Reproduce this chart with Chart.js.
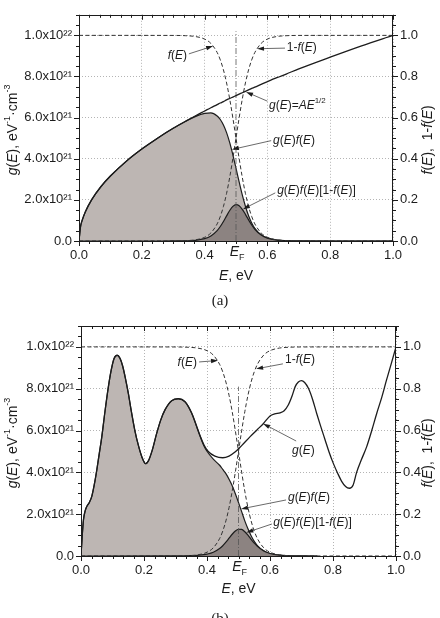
<!DOCTYPE html>
<html>
<head>
<meta charset="utf-8">
<script src="https://cdn.jsdelivr.net/npm/chart.js@4.4.1/dist/chart.umd.min.js"></script>
<style>
    html, body { margin: 0; padding: 0; background: #fff; }
    #wrap { position: relative; width: 440px; height: 618px; overflow: hidden; }
    canvas { position: absolute; left: 0; }
    #chart-a { top: 0; }
    #chart-b { top: 310px; }
</style>
</head>
<body>
<div id="wrap">
    <canvas id="chart-a" width="440" height="310"></canvas>
    <canvas id="chart-b" width="440" height="308"></canvas>
</div>
<script>
// ---- axis labels ----
const xTickLabels = ['0.0', '0.2', '0.4', '0.6', '0.8', '1.0'];
const yTickLabels = ['0.0', '2.0x10²¹', '4.0x10²¹', '6.0x10²¹', '8.0x10²¹', '1.0x10²²'];
const rTickLabels = ['0.0', '0.2', '0.4', '0.6', '0.8', '1.0'];

// ---- Fermi function around E_F = 0.5 eV (dashed curves, right axis) ----
const fermiE   = [0, 0.3, 0.34, 0.37, 0.4, 0.42, 0.44, 0.45, 0.46, 0.47, 0.48, 0.49, 0.5, 0.51, 0.52, 0.53, 0.54, 0.55, 0.56, 0.58, 0.6, 0.63, 0.66, 0.7, 1.0];
const fermiF   = [1, 0.9997, 0.9983, 0.9945, 0.982, 0.9608, 0.9168, 0.8808, 0.832, 0.7685, 0.69, 0.5987, 0.5, 0.4013, 0.31, 0.2315, 0.168, 0.1192, 0.0832, 0.0392, 0.018, 0.0055, 0.0017, 0.0003, 0];
const fermi1mF = [0, 0.0003, 0.0017, 0.0055, 0.018, 0.0392, 0.0832, 0.1192, 0.168, 0.2315, 0.31, 0.4013, 0.5, 0.5987, 0.69, 0.7685, 0.832, 0.8808, 0.9168, 0.9608, 0.982, 0.9945, 0.9983, 0.9997, 1];

// ---- panel (a): g(E) = A E^1/2, values in 1e21 eV^-1 cm^-3 ----
const aE    = [0, 0.005, 0.01, 0.02, 0.04, 0.07, 0.1, 0.15, 0.2, 0.25, 0.3, 0.34, 0.37, 0.4, 0.42, 0.44, 0.45, 0.46, 0.47, 0.48, 0.49, 0.5, 0.51, 0.52, 0.53, 0.54, 0.55, 0.56, 0.58, 0.6, 0.63, 0.66, 0.7, 0.8, 0.9, 1.0];
const aG    = [0, 0.71, 1.0, 1.41, 2.0, 2.65, 3.16, 3.87, 4.47, 5.0, 5.48, 5.83, 6.08, 6.32, 6.48, 6.63, 6.71, 6.78, 6.86, 6.93, 7.0, 7.07, 7.14, 7.21, 7.28, 7.35, 7.42, 7.48, 7.62, 7.75, 7.94, 8.12, 8.37, 8.94, 9.49, 10.0];
const aGF   = [0, 0.71, 1.0, 1.41, 2.0, 2.65, 3.16, 3.87, 4.47, 5.0, 5.48, 5.82, 6.05, 6.21, 6.23, 6.08, 5.91, 5.64, 5.27, 4.78, 4.19, 3.54, 2.87, 2.24, 1.69, 1.23, 0.88, 0.62, 0.3, 0.14, 0.04, 0.01, 0, 0, 0, 0];
const aGF1F = [0, 0, 0, 0, 0, 0, 0, 0, 0, 0, 0.002, 0.01, 0.033, 0.112, 0.244, 0.506, 0.704, 0.948, 1.22, 1.482, 1.682, 1.768, 1.716, 1.542, 1.295, 1.027, 0.779, 0.571, 0.287, 0.137, 0.043, 0.014, 0.003, 0, 0, 0];
const aLineE = [0.5, 0.5];
const aLineY = [0, 1.02];

// ---- panel (b): model density of states, values in 1e21 eV^-1 cm^-3 ----
const bGE = [0, 0.004, 0.008, 0.013, 0.018, 0.026, 0.034, 0.042, 0.05, 0.058, 0.066, 0.076, 0.087, 0.096, 0.105, 0.115, 0.124, 0.132, 0.141, 0.15, 0.16, 0.171, 0.182, 0.193, 0.205, 0.214, 0.226, 0.24, 0.253, 0.267, 0.288, 0.309, 0.33, 0.351, 0.365, 0.378, 0.391, 0.404, 0.425, 0.45, 0.47, 0.49, 0.51, 0.537, 0.56, 0.58, 0.6, 0.615, 0.632, 0.645, 0.658, 0.67, 0.68, 0.69, 0.70, 0.71, 0.722, 0.735, 0.748, 0.761, 0.775, 0.788, 0.801, 0.815, 0.828, 0.84, 0.852, 0.864, 0.875, 0.89, 0.907, 0.923, 0.939, 0.955, 0.97, 0.985, 1.0];
const bG  = [0, 1.0, 1.75, 2.15, 2.36, 2.55, 2.84, 3.4, 4.1, 4.9, 5.7, 6.9, 8.1, 8.9, 9.45, 9.6, 9.45, 9.1, 8.5, 7.8, 6.9, 6.0, 5.3, 4.75, 4.42, 4.55, 5.05, 5.85, 6.5, 7.0, 7.43, 7.52, 7.38, 6.85, 6.3, 5.75, 5.3, 5.0, 4.78, 4.70, 4.78, 4.98, 5.28, 5.71, 6.05, 6.35, 6.7, 6.8, 6.85, 6.95, 7.22, 7.65, 8.1, 8.32, 8.39, 8.3, 8.02, 7.5, 6.83, 6.2, 5.55, 4.95, 4.43, 3.95, 3.56, 3.32, 3.24, 3.4, 4.0, 4.6, 5.23, 6.0, 6.83, 7.6, 8.42, 9.2, 10.0];
const bGFE = [0, 0.004, 0.008, 0.013, 0.018, 0.026, 0.034, 0.042, 0.05, 0.058, 0.066, 0.076, 0.087, 0.096, 0.105, 0.115, 0.124, 0.132, 0.141, 0.15, 0.16, 0.171, 0.182, 0.193, 0.205, 0.214, 0.226, 0.24, 0.253, 0.267, 0.288, 0.309, 0.33, 0.351, 0.37, 0.39, 0.40, 0.42, 0.44, 0.45, 0.46, 0.47, 0.48, 0.49, 0.50, 0.51, 0.52, 0.53, 0.54, 0.55, 0.56, 0.58, 0.60, 0.63, 0.66, 0.70, 0.75];
const bGF  = [0, 1.0, 1.75, 2.15, 2.36, 2.55, 2.84, 3.4, 4.1, 4.9, 5.7, 6.9, 8.1, 8.9, 9.45, 9.6, 9.45, 9.1, 8.5, 7.8, 6.9, 6.0, 5.3, 4.75, 4.42, 4.55, 5.05, 5.85, 6.5, 7.0, 7.43, 7.52, 7.38, 6.84, 6.06, 5.27, 5.01, 4.63, 4.34, 4.14, 3.94, 3.67, 3.36, 2.98, 2.56, 2.12, 1.68, 1.30, 0.97, 0.70, 0.50, 0.25, 0.12, 0.04, 0.01, 0, 0];
const bGF1FE = [0, 0.3, 0.35, 0.37, 0.39, 0.40, 0.42, 0.44, 0.45, 0.46, 0.47, 0.48, 0.49, 0.50, 0.51, 0.52, 0.53, 0.54, 0.55, 0.56, 0.58, 0.60, 0.63, 0.66, 0.70, 0.75];
const bGF1F  = [0, 0.002, 0.017, 0.033, 0.064, 0.09, 0.18, 0.36, 0.49, 0.66, 0.85, 1.04, 1.20, 1.28, 1.27, 1.16, 1.0, 0.80, 0.62, 0.46, 0.24, 0.12, 0.037, 0.012, 0.003, 0];
const bLineE = [0.5, 0.5];
const bLineY = [0, 0.81];

const FONT = "Arial, 'Liberation Sans', sans-serif";
const SERIF = "'Times New Roman', 'Liberation Serif', serif";
const INK = '#1c1c1c';
const LIGHT_FILL = '#bdb6b3';
const DARK_FILL = '#8c8381';

const pts = (xs, ys) => xs.map((x, i) => ({ x: x, y: ys[i] }));

// label segments: [text, style]  style: 'i' italic, 's' superscript
const fE  = [['f', 'i'], ['('], ['E', 'i'], [')']];
const gE  = [['g', 'i'], ['('], ['E', 'i'], [')']];
const gEfE = gE.concat(fE);
const gEfE1 = gE.concat(fE, [['[1-'], ['f', 'i'], ['('], ['E', 'i'], [')]']]);
const gEsqrt = gE.concat([['='], ['A', 'i'], ['E', 'i'], ['1/2', 's']]);

const panelA = {
    caption: '(a)', captionY: 305, titleDy: 35,
    leftW: 79, rightW: 47, top: 11, xH: 69,
    notes: [
        { segs: fE, x: 0.344, y: 9.0, align: 'right', from: [0.35, 9.1], to: [0.427, 9.48] },
        { segs: [['1-']].concat(fE), x: 0.662, y: 9.38, align: 'left', from: [0.656, 9.38], to: [0.567, 9.35] },
        { segs: gEsqrt, x: 0.605, y: 6.6, align: 'left', from: [0.6, 6.8], to: [0.532, 7.25] },
        { segs: gEfE, x: 0.618, y: 4.88, align: 'left', from: [0.612, 4.88], to: [0.487, 4.45] },
        { segs: gEfE1, x: 0.631, y: 2.44, align: 'left', from: [0.625, 2.34], to: [0.522, 1.55] }
    ]
};
const panelB = {
    caption: '(b)', captionY: 313, titleDy: 33,
    leftW: 81, rightW: 44, top: 16, xH: 62,
    notes: [
        { segs: fE, x: 0.368, y: 9.23, align: 'right', from: [0.375, 9.28], to: [0.435, 9.35] },
        { segs: [['1-']].concat(fE), x: 0.648, y: 9.38, align: 'left', from: [0.641, 9.19], to: [0.556, 8.95] },
        { segs: gE, x: 0.67, y: 5.02, align: 'left', from: [0.683, 5.5], to: [0.578, 6.33] },
        { segs: gEfE, x: 0.657, y: 2.78, align: 'left', from: [0.651, 2.68], to: [0.508, 2.25] },
        { segs: gEfE1, x: 0.61, y: 1.58, align: 'left', from: [0.606, 1.53], to: [0.525, 1.12] }
    ]
};

function segFont(st, size) {
    const s = st === 's' ? Math.round(size * 0.65) : size;
    return (st === 'i' ? 'italic ' : '') + s + 'px ' + FONT;
}

function richWidth(ctx, segs, size) {
    let w = 0;
    segs.forEach(([t, st]) => { ctx.font = segFont(st, size); w += ctx.measureText(t).width; });
    return w;
}

// draws segments with textBaseline middle, starting at x
function drawRich(ctx, segs, x, y, size, align) {
    const w = richWidth(ctx, segs, size);
    let cx = align === 'right' ? x - w : align === 'center' ? x - w / 2 : x;
    ctx.textBaseline = 'middle';
    ctx.textAlign = 'left';
    segs.forEach(([t, st]) => {
        ctx.font = segFont(st, size);
        ctx.fillText(t, cx, st === 's' ? y - size * 0.38 : y);
        cx += ctx.measureText(t).width;
    });
}

function drawArrow(ctx, x1, y1, x2, y2) {
    const ang = Math.atan2(y2 - y1, x2 - x1);
    ctx.strokeStyle = '#444';
    ctx.lineWidth = 0.8;
    ctx.beginPath();
    ctx.moveTo(x1, y1);
    ctx.lineTo(x2 - 4 * Math.cos(ang), y2 - 4 * Math.sin(ang));
    ctx.stroke();
    ctx.fillStyle = INK;
    ctx.beginPath();
    ctx.moveTo(x2, y2);
    ctx.lineTo(x2 - 7 * Math.cos(ang) + 2.2 * Math.sin(ang), y2 - 7 * Math.sin(ang) - 2.2 * Math.cos(ang));
    ctx.lineTo(x2 - 7 * Math.cos(ang) - 2.2 * Math.sin(ang), y2 - 7 * Math.sin(ang) + 2.2 * Math.cos(ang));
    ctx.closePath();
    ctx.fill();
}

function decoPlugin(panel) {
    return {
        id: 'deco',
        afterDraw(chart) {
            const { ctx, chartArea: a, scales } = chart;
            const px = v => scales.x.getPixelForValue(v);
            const py = v => scales.y.getPixelForValue(v);
            ctx.save();

            // frame
            ctx.strokeStyle = INK;
            ctx.lineWidth = 1;
            ctx.strokeRect(Math.round(a.left) + 0.5, Math.round(a.top) + 0.5, Math.round(a.right - a.left) - 1, Math.round(a.bottom - a.top));

            // tick marks: out on left/bottom/right, in on top
            ctx.beginPath();
            for (let i = 0; i <= 30; i++) {
                const x = Math.round(px(i / 30)) + 0.5;
                const len = i % 6 === 0 ? 5 : 3;
                ctx.moveTo(x, a.bottom); ctx.lineTo(x, a.bottom + len);
                ctx.moveTo(x, a.top); ctx.lineTo(x, a.top + len);
            }
            for (let i = 0; i <= 22; i++) {
                const y = Math.round(py(i * 0.5)) + 0.5;
                const len = i % 4 === 0 ? 5 : 3;
                ctx.moveTo(a.left - len, y); ctx.lineTo(a.left, y);
                ctx.moveTo(a.right, y); ctx.lineTo(a.right + len, y);
            }
            ctx.stroke();

            ctx.fillStyle = INK;
            // E_F tick label
            ctx.textBaseline = 'top';
            ctx.textAlign = 'right';
            ctx.font = 'italic 14px ' + FONT;
            ctx.fillText('E', px(0.5) + 3, a.bottom + 4);
            ctx.textAlign = 'left';
            ctx.font = '9px ' + FONT;
            ctx.fillText('F', px(0.5) + 3, a.bottom + 12);

            // axis titles
            const midY = (a.top + a.bottom) / 2;
            ctx.save();
            ctx.translate(13, midY + 2);
            ctx.rotate(-Math.PI / 2);
            drawRich(ctx, [['g', 'i'], ['('], ['E', 'i'], ['), eV'], ['-1', 's'], ['·cm'], ['-3', 's']], 0, 0, 14, 'center');
            ctx.restore();
            ctx.save();
            ctx.translate(428, midY + 12);
            ctx.rotate(-Math.PI / 2);
            drawRich(ctx, fE.concat([[',  1-']], fE), 0, 0, 14, 'center');
            ctx.restore();
            drawRich(ctx, [['E', 'i'], [', eV']], (a.left + a.right) / 2, a.bottom + panel.titleDy, 14, 'center');

            // annotations with arrows
            panel.notes.forEach(n => {
                drawArrow(ctx, px(n.from[0]), py(n.from[1]), px(n.to[0]), py(n.to[1]));
                ctx.fillStyle = INK;
                drawRich(ctx, n.segs, px(n.x), py(n.y), 12, n.align);
            });

            // caption
            ctx.font = '15px ' + SERIF;
            ctx.textAlign = 'center';
            ctx.textBaseline = 'alphabetic';
            ctx.fillText(panel.caption, 220, panel.captionY);
            ctx.restore();
        }
    };
}

function buildChart(canvasId, panel, sets) {
    const ctx = document.getElementById(canvasId).getContext('2d');
    const gridStyle = { color: '#b4b4b4', lineWidth: 1, drawTicks: false };
    return new Chart(ctx, {
        type: 'line',
        data: {
            datasets: [
                { data: sets.g, borderColor: INK, borderWidth: 1.3, yAxisID: 'y', order: 1 },
                { data: pts(fermiE, fermiF), borderColor: '#333', borderWidth: 1, borderDash: [4, 2.5], yAxisID: 'y2', order: 2 },
                { data: pts(fermiE, fermi1mF), borderColor: '#333', borderWidth: 1, borderDash: [4, 2.5], yAxisID: 'y2', order: 2 },
                { data: sets.line, borderColor: '#555', borderWidth: 0.8, borderDash: [6, 2, 1, 2], yAxisID: 'y2', order: 3, cubicInterpolationMode: 'default', tension: 0 },
                { data: sets.gf1f, borderColor: INK, borderWidth: 1.2, backgroundColor: DARK_FILL, fill: 'origin', yAxisID: 'y', order: 4 },
                { data: sets.gf, borderColor: INK, borderWidth: 1.2, backgroundColor: LIGHT_FILL, fill: 'origin', yAxisID: 'y', order: 5 }
            ]
        },
        options: {
            responsive: false,
            devicePixelRatio: 1,
            animation: false,
            layout: { padding: { top: panel.top, left: 0, right: 0, bottom: 0 } },
            elements: {
                point: { radius: 0 },
                line: { cubicInterpolationMode: 'monotone' }
            },
            plugins: { legend: { display: false }, tooltip: { enabled: false } },
            scales: {
                x: {
                    type: 'linear', min: 0, max: 1,
                    grid: gridStyle,
                    border: { display: false, dash: [1, 2] },
                    ticks: {
                        stepSize: 0.2, includeBounds: false, autoSkip: false, maxRotation: 0,
                        padding: 7, color: INK, font: { size: 13, family: FONT },
                        callback: (v, i) => xTickLabels[i]
                    },
                    afterFit: s => { s.height = panel.xH; }
                },
                y: {
                    position: 'left', min: 0, max: 11,
                    grid: gridStyle,
                    border: { display: false, dash: [1, 2] },
                    ticks: {
                        stepSize: 2, includeBounds: false,
                        padding: 7, color: INK, font: { size: 13, family: FONT },
                        callback: (v, i) => yTickLabels[i]
                    },
                    afterFit: s => { s.width = panel.leftW; }
                },
                y2: {
                    position: 'right', min: 0, max: 1.1,
                    grid: { display: false, drawTicks: false },
                    border: { display: false },
                    ticks: {
                        stepSize: 0.2, includeBounds: false,
                        padding: 7, color: INK, font: { size: 13, family: FONT },
                        callback: (v, i) => rTickLabels[i]
                    },
                    afterFit: s => { s.width = panel.rightW; }
                }
            }
        },
        plugins: [decoPlugin(panel)]
    });
}

buildChart('chart-a', panelA, {
    g: pts(aE, aG), gf: pts(aE, aGF), gf1f: pts(aE, aGF1F), line: pts(aLineE, aLineY)
});
buildChart('chart-b', panelB, {
    g: pts(bGE, bG), gf: pts(bGFE, bGF), gf1f: pts(bGF1FE, bGF1F), line: pts(bLineE, bLineY)
});
</script>
</body>
</html>
